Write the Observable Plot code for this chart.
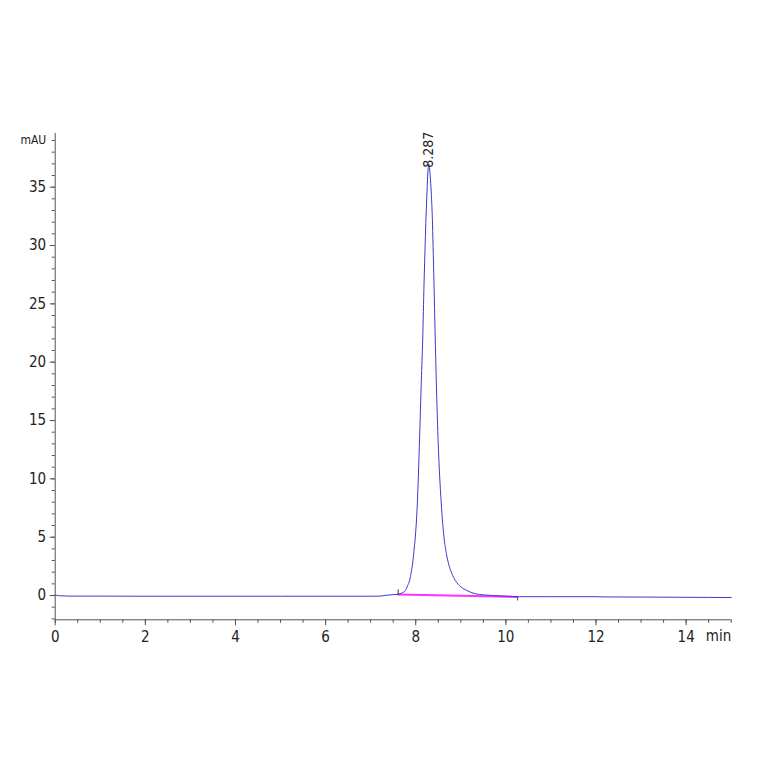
<!DOCTYPE html>
<html>
<head>
<meta charset="utf-8">
<script src="https://cdn.jsdelivr.net/npm/d3@7"></script>
<script src="https://cdn.jsdelivr.net/npm/@observablehq/plot@0.6"></script>
<style>
  html, body { margin: 0; padding: 0; background: #fff; }
  #chart svg { display: block; }
  #chart svg text { font-stretch: condensed; }
</style>
</head>
<body>
<div id="chart"></div>
<script>
// Chromatogram trace (retention time in min, absorbance in mAU)
const time = [0, 0.1, 0.3, 1, 2, 3, 4, 5, 6, 7, 7.2, 7.35, 7.5, 7.61, 7.68, 7.77, 7.82, 7.864, 7.9, 7.93, 7.96, 7.99, 8.035, 8.06, 8.086, 8.124, 8.155, 8.184, 8.21, 8.228, 8.25, 8.27, 8.287, 8.305, 8.32, 8.345, 8.368, 8.385, 8.405, 8.43, 8.456, 8.494, 8.53, 8.567, 8.627, 8.68, 8.729, 8.8, 8.878, 9.0, 9.137, 9.32, 9.5, 9.7, 10.0, 10.3, 11, 12, 12.2, 13, 14, 15];
const mAU  = [0.05, -0.02, -0.05, -0.05, -0.06, -0.06, -0.06, -0.06, -0.06, -0.06, -0.05, 0.02, 0.08, 0.1, 0.2, 0.43, 0.85, 1.29, 2.0, 2.72, 3.8, 5.0, 7.86, 10.4, 13.56, 18.4, 22.0, 26.7, 30.2, 32.4, 34.6, 36.3, 37.0, 36.7, 36.0, 34.5, 32.4, 29.9, 26.7, 22.5, 18.4, 13.56, 10.3, 7.86, 5.0, 3.6, 2.72, 1.9, 1.29, 0.75, 0.43, 0.15, 0.06, 0.0, -0.05, -0.1, -0.1, -0.1, -0.12, -0.13, -0.15, -0.17];

// Integration baseline (start/end of peak)
const baseTime = [7.61, 10.26];
const baseMAU  = [0.08, -0.12];

// Peak annotation
const peakTime  = [8.287];
const peakMAU   = [37.0];
const peakLabel = ["8.287"];

// Axis ticks
const xMajor = [0, 2, 4, 6, 8, 10, 12, 14];
const xMinor = d3.range(0, 15.01, 0.5);
const yMajor = [0, 5, 10, 15, 20, 25, 30, 35];
const yMinor = d3.range(-2, 39.5, 1);
const xUnit = "min";
const yUnit = "mAU";

const trace = time.map((t, i) => ({t, v: mAU[i]}));
const base = baseTime.map((t, i) => ({t, v: baseMAU[i]}));
const peaks = peakTime.map((t, i) => ({t, v: peakMAU[i], label: peakLabel[i]}));

const font = "'Liberation Sans Narrow', 'DejaVu Sans Condensed', 'Arial Narrow', 'DejaVu Sans', sans-serif";
const axisColor = "#555";
const yMin = -2.08, yMax = 39.6;

const chart = Plot.plot({
  width: 764,
  height: 764,
  marginLeft: 54.7,
  marginRight: 33.3,
  marginTop: 133,
  marginBottom: 144.7,
  style: {fontFamily: font, fontSize: "14px", color: "#222", background: "#fff"},
  x: {domain: [0, 15]},
  y: {domain: [yMin, yMax]},
  marks: [
    // axis lines
    Plot.ruleX([0], {stroke: axisColor, strokeWidth: 1}),
    Plot.ruleY([yMin], {stroke: axisColor, strokeWidth: 1}),
    // minor ticks
    Plot.axisX({ticks: xMinor, tickSize: 3.5, tickFormat: () => "", stroke: axisColor, label: null}),
    Plot.axisY({ticks: yMinor, tickSize: 3, tickFormat: () => "", stroke: axisColor, label: null}),
    // major ticks + labels
    Plot.axisX({ticks: xMajor, tickSize: 6, tickPadding: 6, tickFormat: d => String(d), stroke: axisColor, fill: "#222", fontSize: 15, label: null}),
    Plot.axisY({ticks: yMajor, tickSize: 5, tickPadding: 4, tickFormat: d => String(d), stroke: axisColor, fill: "#222", fontSize: 15, label: null}),
    // unit labels
    Plot.text([{t: 0, v: 39}], {x: "t", y: "v", text: () => yUnit, textAnchor: "end", dx: -9, fontSize: 12, fill: "#222", letterSpacing: "1px"}),
    Plot.text([{t: 15, v: yMin}], {x: "t", y: "v", text: () => xUnit, textAnchor: "end", lineAnchor: "top", dy: 11, fontSize: 15, fill: "#222"}),
    // integration baseline
    Plot.line(base, {x: "t", y: "v", stroke: "#ff33ff", strokeWidth: 2}),
    // trace
    Plot.line(trace, {x: "t", y: "v", stroke: "#3a3ad0", strokeWidth: 1, curve: "monotone-x"}),
    // start / end markers
    Plot.ruleX([{t: baseTime[0], y1: baseMAU[0], y2: baseMAU[0] + 0.4}], {x: "t", y1: "y1", y2: "y2", stroke: "#333", strokeWidth: 1}),
    Plot.ruleX([{t: baseTime[1], y1: baseMAU[1], y2: baseMAU[1] - 0.35}], {x: "t", y1: "y1", y2: "y2", stroke: "#555", strokeWidth: 1}),
    // peak label
    Plot.text(peaks, {x: "t", y: "v", text: "label", rotate: -90, textAnchor: "start", lineAnchor: "middle", dy: 4, fontSize: 14, fill: "#222"})
  ]
});
document.getElementById("chart").appendChild(chart);
</script>
</body>
</html>
